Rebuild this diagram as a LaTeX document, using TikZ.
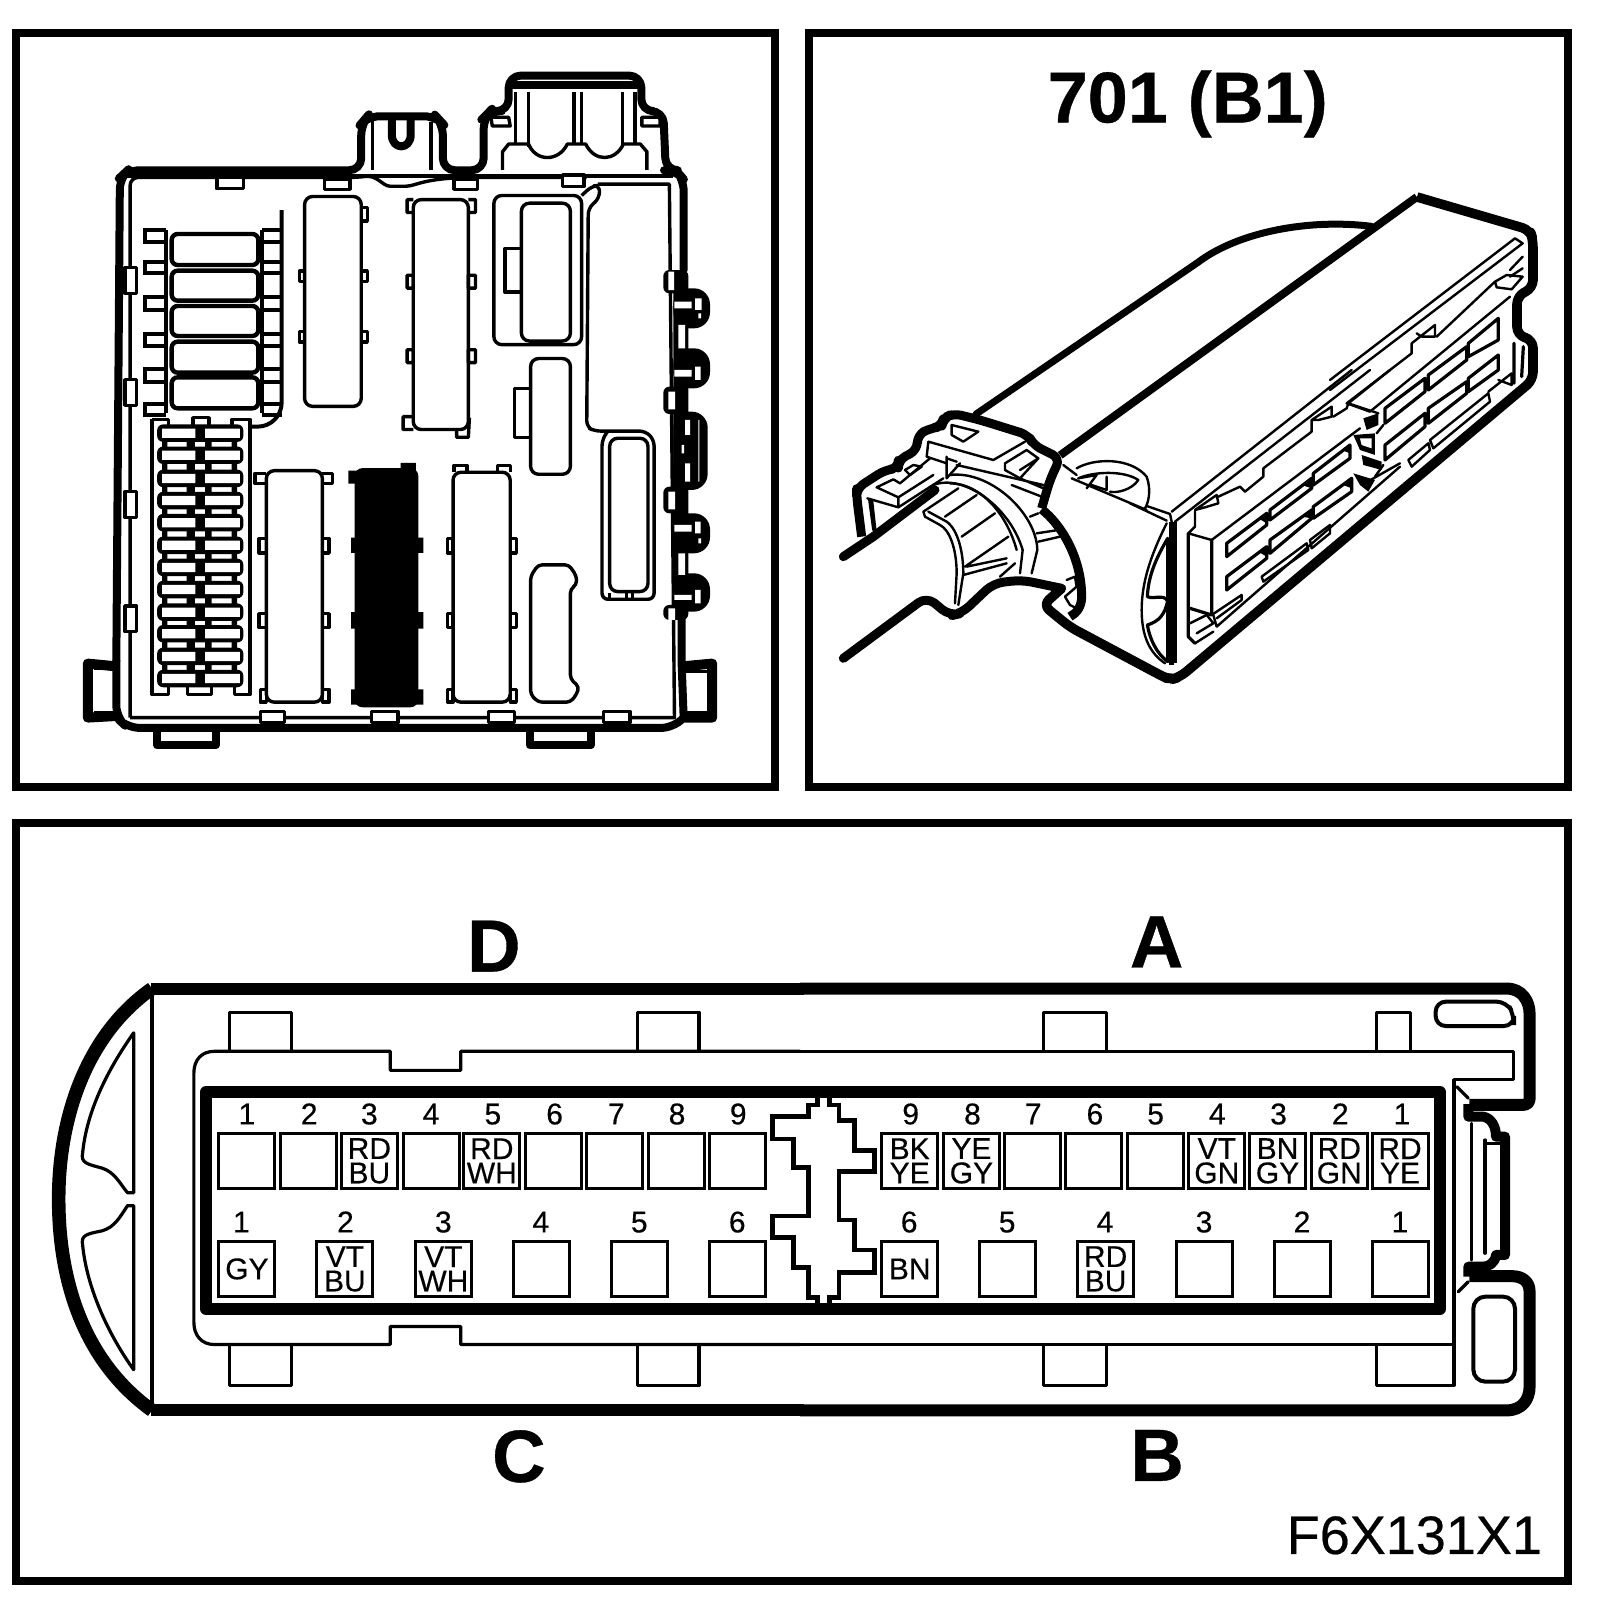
\documentclass[tikz,border=0pt]{standalone}
\usepackage{fontspec}
\setmainfont{Liberation Sans}
\newfontfamily\pinfont{Liberation Sans}[FakeBold=0.4]
\newfontfamily\bigfont{Liberation Sans}[BoldFeatures={FakeBold=0.5}]
\tikzset{
    half/.style 2 args={shift={(#1,#2)}, xscale=0.5102, yscale=0.5144},
    crop/.style 2 args={shift={(#1,#2)}, scale=0.3333},
    panel/.style={line width=3.9pt, line join=miter},
    heavy/.style={line width=4pt, line join=round, line cap=round},
    light/.style={line width=1.6pt, line join=round, line cap=round},
    wire/.style={line width=1.2pt, line join=round, line cap=round},
    shell/.style={line width=6pt, line join=round},
    relay/.style={line width=1.7pt, line join=round, rounded corners=4pt},
    ear/.style={line width=1.7pt, line join=round},
    pinbox/.style={draw, line width=1.5pt, minimum width=28pt, minimum height=27.75pt, inner sep=0pt, align=center, font=\pinfont\fontsize{15}{12.2}\selectfont},
    pinnum/.style={anchor=base, inner sep=0pt, font=\pinfont\fontsize{15}{15}\selectfont},
    sidelabel/.style={anchor=base, inner sep=0pt, font=\bigfont\fontsize{37}{37}\selectfont\bfseries},
}
\begin{document}
\begin{tikzpicture}[x=0.5pt, y=-0.5pt]
    \useasboundingbox (0,0) rectangle (1600,1616);
    \draw[panel] (16,33) rectangle (775,787);
    \draw[panel] (809,33) rectangle (1568,787);
    \draw[panel] (16,823) rectangle (1568,1581);

    % fuse box
    \begin{scope}[half={0}{0}]
        \draw[heavy, rounded corners=6pt] (228,1285) -- (235,345) -- (250,331) -- (708,331) -- (708,240) -- (720,226) -- (855,226) -- (868,240) -- (868,331) -- (948,331) -- (948,228) -- (960,216) -- (997,216) -- (997,147) -- (1257,147) -- (1257,216) -- (1300,216) -- (1305,331) -- (1325,331) -- (1340,348) -- (1340,525);
        \draw[heavy] (1336,1190) -- (1336,1290) -- (1340,1395);
        \draw[heavy, rounded corners=6pt] (228,1285) -- (228,1395) -- (250,1415) -- (1320,1415) -- (1340,1395);
        \draw[line width=4pt, line join=round] (308,1417) -- (308,1449) -- (423,1449) -- (423,1417);
        \draw[line width=4pt, line join=round] (1038,1417) -- (1038,1449) -- (1158,1449) -- (1158,1417);
        \draw[line width=5pt, line join=round] (224,1295) -- (172,1290) -- (172,1395) -- (226,1392);
        \draw[ear] (185,1300) -- (226,1300) (185,1385) -- (226,1385);
        \draw[line width=5pt, line join=round] (1342,1295) -- (1396,1290) -- (1396,1395) -- (1342,1395);
        \draw[ear] (1342,1305) -- (1385,1305) (1342,1385) -- (1385,1385);

        \draw[ear, rounded corners=4pt] (255,1395) -- (255,345) -- (700,345) .. controls (740,340) and (750,362) .. (780,362) .. controls (815,362) and (830,345) .. (945,345) -- (1150,345);
        \draw[ear] (1172,358) -- (1312,358) -- (1322,1395) -- (255,1395);
        \draw[ear] (245,342) -- (1320,342);
        \draw[ear, fill=white] (425,345) rectangle (477,367);
        \draw[ear, fill=white] (636,348) rectangle (686,368);
        \draw[ear, fill=white] (890,348) rectangle (936,368);
        \draw[ear, fill=white] (1103,340) rectangle (1145,362);
        \draw[ear, fill=white] (510,1383) rectangle (558,1405);
        \draw[ear, fill=white] (728,1383) rectangle (780,1405);
        \draw[ear, fill=white] (958,1383) rectangle (1008,1405);
        \draw[ear, fill=white] (1183,1383) rectangle (1235,1405);
        \foreach \y in {520,738,956,1178} {
            \draw[ear, fill=white] (245,\y) rectangle (268,\y+50);
        }

        \draw[ear] (730,235) -- (730,330) (845,238) -- (845,330);
        \draw[heavy] (768,232) -- (768,262) .. controls (768,292) and (805,292) .. (805,262) -- (805,232);
        \draw[heavy] (1005,165) -- (1250,165);
        \draw[ear] (1010,178) -- (1010,280) (1036,178) -- (1036,285) (1125,178) -- (1125,280) (1140,178) -- (1140,280) (1220,178) -- (1220,285) (1245,178) -- (1245,278);
        \draw[ear] (985,330) -- (985,295) -- (997,280) -- (1036,280) .. controls (1050,315) and (1095,315) .. (1112,280) -- (1148,280) .. controls (1165,315) and (1205,315) .. (1222,280) -- (1255,280) -- (1268,295) -- (1268,330);
        \draw[ear] (962,228) -- (997,228) -- (1000,245) -- (965,245) -- cycle (1258,228) -- (1294,228) -- (1294,245) -- (1258,245) -- cycle;

        \draw[relay] (597,382) rectangle (708,790);
        \draw[ear] (708,403) -- (720,403) -- (720,430) -- (708,430) (587,527) rectangle (597,547) (708,527) rectangle (720,547) (587,645) rectangle (597,665) (708,645) rectangle (720,665);
        \draw[relay] (810,388) rectangle (918,835);
        \draw[ear] (810,388) -- (798,388) -- (798,413) -- (810,413) (918,388) -- (932,388) -- (932,413) -- (918,413) (798,535) rectangle (810,560) (918,535) rectangle (932,560) (798,680) rectangle (810,705) (918,680) rectangle (932,705) (810,810) -- (790,810) -- (790,835) -- (810,835) (895,835) -- (895,850) -- (918,850) -- (920,812);
        \draw[relay] (968,380) -- (1140,380) -- (1140,670) -- (968,670) -- cycle;
        \draw[relay] (1022,395) rectangle (1118,663);
        \draw[ear] (1022,483) -- (990,483) -- (990,568) -- (1022,568);
        \draw[ear, rounded corners=3pt] (1140,380) -- (1160,362) -- (1175,360) -- (1175,385) -- (1153,405) -- (1150,830) -- (1165,838) -- (1265,838) -- (1282,855) -- (1282,1165) -- (1180,1165) -- (1180,855) -- (1190,840);
        \draw[relay] (1195,852) rectangle (1270,1150);
        \draw[ear] (1195,1165) -- (1195,1152) (1228,1165) -- (1228,1152) (1240,1165) -- (1240,1152);
        \draw[relay] (1040,697) rectangle (1118,922);
        \draw[ear] (1040,755) -- (1008,755) -- (1008,850) -- (1040,850);
        \draw[relay, rounded corners=2pt] (1040,1120) -- (1055,1098) -- (1115,1098) -- (1130,1120) -- (1130,1137) -- (1118,1145) -- (1118,1320) -- (1135,1335) -- (1130,1350) -- (1118,1365) -- (1055,1365) -- (1040,1350) -- cycle;

        \draw[relay] (522,915) rectangle (632,1365);
        \draw[ear] (522,920) -- (500,920) -- (500,940) -- (522,940) (632,920) -- (652,920) -- (652,940) -- (632,940) (508,1047) rectangle (522,1075) (632,1047) rectangle (645,1075) (508,1193) rectangle (522,1220) (632,1193) rectangle (645,1220) (510,1340) rectangle (522,1365) (632,1340) rectangle (645,1365);
        \fill[rounded corners=4pt] (695,910) rectangle (820,1375);
        \fill (683,915) rectangle (700,940) (785,900) rectangle (815,915) (688,1045) rectangle (700,1075) (815,1045) rectangle (830,1075) (688,1190) rectangle (700,1222) (815,1190) rectangle (830,1222) (688,1340) rectangle (700,1370) (815,1340) rectangle (830,1370);
        \draw[relay] (888,918) rectangle (1000,1365);
        \draw[ear] (890,918) -- (890,905) -- (915,905) -- (915,918) (975,918) -- (975,905) -- (1000,905) -- (1000,918) (877,1047) rectangle (888,1075) (1000,1047) rectangle (1012,1075) (877,1193) rectangle (888,1220) (1000,1193) rectangle (1012,1220) (877,1340) rectangle (888,1365) (1000,1340) rectangle (1012,1365);

        \draw[ear] (298,815) -- (298,1350) -- (330,1350) -- (330,1335) (368,1335) -- (368,1350) -- (415,1350) -- (415,1335) (460,1335) -- (460,1350) -- (490,1350) -- (490,815) -- (455,815) -- (455,827) (298,815) -- (330,815) -- (330,827) (378,827) -- (378,812) -- (410,812) -- (410,827);
        \fill (318,830) rectangle (328,1330) (366,830) rectangle (382,1330) (402,830) rectangle (415,1330) (454,830) rectangle (465,1330);
        \foreach \y in {842,885,930,973,1016,1060,1103,1146,1190,1232,1276,1319} {
            \fill[rounded corners=3pt] (308,\y-17) rectangle (477,\y+17);
            \fill[white] (318,\y-9) rectangle (383,\y+9) (402,\y-9) rectangle (470,\y+9);
        }
    \end{scope}

    % small fuses
    \begin{scope}[crop={130}{210}]
        \draw[line width=2pt] (108,60) -- (108,610) (396,60) -- (396,610);
        \draw[line width=2pt, rounded corners=12pt] (455,0) -- (455,650) -- (360,650);
        \foreach \y/\t in {60/95,155/190,262/300,372/408,478/515,582/615} {
            \draw[line width=2pt] (108,\y) -- (45,\y) -- (45,\t) -- (108,\t);
            \draw[line width=2pt] (396,\y) -- (455,\y) (396,\t) -- (455,\t);
        }
        \foreach \y/\t in {72/165,182/272,288/378,395/488,502/595} {
            \draw[line width=2.2pt, fill=white, rounded corners=3pt] (125,\y) rectangle (385,\t);
        }
    \end{scope}

    % side clips
    \begin{scope}[crop={640}{270}]
        \fill[rounded corners=3pt] (100,0) rectangle (145,1050);
        \fill[rounded corners=8pt] (100,55) rectangle (210,175) (100,235) rectangle (210,355) (100,425) rectangle (203,660) (100,730) rectangle (210,850) (100,910) rectangle (210,1025);
        \fill[rounded corners=3pt] (70,0) rectangle (140,70) (70,350) rectangle (140,432) (70,650) rectangle (140,730) (70,1005) rectangle (140,1050);
        \fill[white] (85,5) rectangle (102,60) (85,365) rectangle (105,418) (85,665) rectangle (105,718) (85,1015) rectangle (105,1050)
            (115,165) rectangle (135,235) (115,850) rectangle (135,915)
            (103,95) rectangle (155,115) (165,85) rectangle (185,120) (175,130) rectangle (183,145)
            (103,300) rectangle (155,320) (165,290) rectangle (182,330)
            (135,450) rectangle (150,495) (135,580) rectangle (150,635) (175,450) rectangle (178,635) (125,525) rectangle (132,550)
            (103,765) rectangle (155,785) (165,755) rectangle (182,790) (175,805) rectangle (183,820)
            (103,975) rectangle (155,990) (165,960) rectangle (182,1000);
    \end{scope}

    % connector view
    \begin{scope}[half={800}{0}]
        \node[sidelabel, font=\bigfont\fontsize{36}{36}\selectfont\bfseries] (title) at (760,238) {701 (B1)};
        \draw[line width=3.5pt, line cap=round] (345,805) -- (780,510) .. controls (860,450) and (1000,425) .. (1120,440);
        \draw[line width=4pt, line join=round] (510,885) -- (1209,383);
    \end{scope}
    \draw[line width=4.8pt, line join=round, rounded corners=4pt] (1417,197) -- (1530,230) -- (1533,240) -- (1533,288) -- (1517,296) -- (1517,335) -- (1533,340) -- (1533,380) -- (1180,677) -- (1170,680) -- (1160,675) -- (1070,627) -- (1043,605) -- (1062,588);
    \begin{scope}[crop={1330}{200}]
        \draw[wire] (0,540) -- (555,115) -- (578,130) -- (0,570);
        \draw[wire] (320,410) -- (495,245) -- (500,262) -- (545,268) -- (578,230) -- (530,225) -- (495,245);
        \draw[wire] (245,430) -- (315,375) -- (315,410) -- (275,410) -- (260,400) (245,430) -- (245,460) -- (50,610) -- (120,635) -- (540,290);
        \draw[wire] (540,210) -- (578,170) (540,230) -- (578,205);
        \draw[light] (165,625) -- (285,535) -- (285,575) -- (165,670) -- cycle (295,525) -- (410,440) -- (410,480) -- (295,570) -- cycle (415,430) -- (505,355) -- (505,420) -- (415,470) -- cycle;
        \draw[light] (165,735) -- (285,640) -- (285,680) -- (165,780) -- cycle (295,625) -- (410,545) -- (410,580) -- (295,670) -- cycle (415,535) -- (505,465) -- (505,510) -- (415,575) -- cycle;
        \draw[wire] (300,720) -- (475,580) -- (480,605) -- (310,745) -- cycle (475,575) -- (545,520) -- (545,555) -- (505,540) (235,780) -- (295,730) -- (300,750) -- (245,800) -- cycle;
        \draw[light] (552,430) -- (552,550) (580,440) -- (575,530);
    \end{scope}
    \begin{scope}[crop={1130}{370}]
        \draw[wire] (125,425) -- (665,0) (135,455) -- (720,0);
        \draw[wire] (195,420) -- (260,375) -- (265,400) -- (225,412) -- (195,420) (265,380) -- (330,350) -- (345,365) -- (400,320) -- (400,295) -- (545,185) -- (545,150) -- (605,110) -- (605,140) -- (565,150) -- (545,150) (610,140) -- (650,115) -- (655,100) -- (745,130) (655,100) -- (780,0);
        \draw[wire] (195,425) -- (195,470) -- (175,490) -- (245,510) -- (690,175);
        \draw[light] (175,490) -- (175,800) -- (195,820) (245,510) -- (245,730) (180,715) -- (245,735);
        \draw[light] (290,520) -- (410,430) -- (410,465) -- (290,560) -- cycle (420,420) -- (545,325) -- (545,355) -- (420,450) -- cycle (550,310) -- (660,225) -- (660,265) -- (550,345) -- cycle;
        \draw[light] (290,620) -- (410,530) -- (410,565) -- (290,660) -- cycle (420,510) -- (545,420) -- (545,445) -- (420,550) -- cycle (550,410) -- (665,325) -- (665,365) -- (550,445) -- cycle;
        \fill (385,445) -- (410,430) -- (410,460) -- cycle (515,345) -- (545,325) -- (545,355) -- cycle (635,240) -- (660,225) -- (660,250) -- cycle (385,545) -- (410,530) -- (410,560) -- cycle (515,440) -- (545,420) -- (545,445) -- cycle (640,345) -- (665,325) -- (665,355) -- cycle;
        \draw[wire] (245,735) -- (335,675) -- (335,690) -- (260,745) (395,620) -- (530,520) -- (535,540) -- (400,635) -- cycle (540,510) -- (600,465) -- (600,490) -- (545,535) -- cycle;
        \draw[wire] (260,770) -- (810,290) (250,735) -- (260,770) (180,760) -- (230,735) -- (250,760) -- (200,790) (195,820) -- (250,785);
        \draw[line width=2.4pt] (125,455) -- (125,885) (135,455) -- (135,880);
        \draw[wire] (110,460) .. controls (60,560) and (35,640) .. (35,720) .. controls (35,800) and (60,850) .. (105,880);
        \draw[light] (113,505) .. controls (75,570) and (55,620) .. (52,680) .. controls (75,690) and (95,670) .. (113,692) -- (113,505) (113,692) .. controls (105,735) and (85,755) .. (52,765) .. controls (60,810) and (80,850) .. (113,875) -- (113,692);
        \draw[wire] (50,408) -- (120,432) -- (125,455) (0,400) -- (110,452);
        \fill (700,145) -- (745,130) -- (745,165) -- (710,180) -- cycle (670,195) -- (735,190) -- (735,255) -- (690,240) -- cycle (695,255) -- (755,275) -- (755,300) -- (700,285) -- cycle (670,310) -- (735,330) -- (715,365) -- (690,345) -- cycle;
        \fill[white] (690,205) -- (725,205) -- (725,235) -- (695,225) -- cycle;
        \draw[wire] (760,165) -- (740,190) (760,285) -- (735,320);
        \draw[wire] (695,345) -- (810,280);
    \end{scope}
    \begin{scope}[crop={830}{400}]
        \draw[line width=4.5pt, line cap=round, line join=round] (40,470) -- (130,410) -- (315,270);
        \draw[line width=4.5pt, line join=round, rounded corners=4pt] (95,410) -- (80,290) -- (80,265) -- (165,210) -- (205,205) -- (205,180) -- (262,150) -- (262,105) -- (300,85) -- (335,80) -- (340,55) -- (370,40) -- (450,60) -- (595,105) -- (610,135) -- (690,175) -- (660,240) -- (635,325);
        \draw[line width=4.5pt, line join=round] (635,328) .. controls (690,370) and (755,470) .. (755,590) .. controls (755,620) and (740,640) .. (720,650);
        \draw[line width=4.5pt, line cap=round, line join=round, rounded corners=5pt] (40,775) -- (290,590) -- (360,648) -- (395,640) -- (490,550) -- (575,540) -- (695,565);
        \draw[wire] (295,125) -- (490,180) -- (585,125) (295,125) -- (290,170) -- (350,190);
        \draw[wire] (365,75) -- (445,95) -- (400,125) -- (365,105) -- cycle;
        \draw[wire] (525,190) -- (590,150) -- (625,175) -- (570,235) -- (525,210) -- cycle (570,210) -- (625,175);
        \draw[wire] (350,170) -- (350,235) -- (390,190) (350,175) -- (380,185);
        \draw[wire] (380,195) -- (640,255) (570,235) -- (640,265) (545,255) -- (635,290);
        \draw[wire] (360,225) .. controls (480,210) and (620,340) .. (622,450) -- (605,520);
        \draw[wire] (310,255) .. controls (400,220) and (540,320) .. (578,450) -- (570,520);
        \draw[wire] (360,250) .. controls (450,250) and (530,340) .. (560,450);
        \draw[wire] (280,335) -- (385,265) (280,335) -- (285,350) -- (330,375) .. controls (360,390) and (380,450) .. (380,520) -- (375,610);
        \draw[wire] (295,335) -- (350,365) .. controls (385,390) and (400,460) .. (400,520) -- (385,615);
        \draw[wire] (345,350) -- (440,285) (395,410) -- (495,340) (405,500) -- (535,410) (410,500) -- (530,475) (400,525) -- (530,490) (510,530) -- (555,490);
        \draw[wire] (112,295) -- (205,322) -- (340,235) (205,292) -- (205,322) (205,292) -- (140,262) -- (190,238) -- (210,250) -- (300,175) (205,292) -- (310,225);
        \draw[wire] (225,210) -- (250,195) -- (275,200) -- (240,225) -- cycle;
        \draw[wire] (118,300) -- (130,390) (126,300) -- (136,390);
        \draw[wire] (700,195) -- (740,225) (725,235) -- (950,330);
        \draw[wire] (740,205) .. controls (790,175) and (900,170) .. (950,230) .. controls (965,270) and (955,310) .. (945,325);
        \draw[wire] (745,235) .. controls (790,215) and (880,210) .. (925,240) .. controls (905,270) and (860,280) .. (840,275);
        \draw[wire] (745,235) -- (800,225) -- (770,265) (830,230) -- (830,270) -- (785,255);
        \draw[wire] (620,400) -- (685,390) (625,425) -- (690,410) (600,350) -- (625,340);
        \draw[wire] (710,540) -- (735,530) -- (740,560) -- (705,590) -- (720,615) -- (740,625);
    \end{scope}

    % connector outline
    \begin{scope}[half={0}{808}]
        \draw[line width=6.8pt, line join=round] (298,351) .. controls (170,440) and (115,600) .. (115,760) .. controls (115,930) and (170,1080) .. (298,1171);
        \draw[shell] (295,351) -- (1575,351) (295,1171) -- (1575,1171);
        \draw[light] (298,351) -- (298,1171);
        \draw[light] (262,437) .. controls (210,510) and (170,590) .. (162,670) .. controls (158,690) and (170,692) .. (200,700) .. controls (225,708) and (235,730) .. (250,748) -- (262,748) -- cycle;
        \draw[light] (262,1092) .. controls (210,1020) and (170,930) .. (162,850) .. controls (158,830) and (170,828) .. (200,822) .. controls (225,815) and (235,795) .. (250,773) -- (262,773) -- cycle;
        \draw[light] (1568,473) -- (903,473) -- (903,510) -- (765,510) -- (765,473) -- (420,473) .. controls (395,473) and (380,490) .. (380,515) -- (380,1000) .. controls (380,1025) and (395,1043) .. (420,1043) -- (765,1043) -- (765,1008) -- (903,1008) -- (903,1043) -- (1568,1043);
        \draw[light] (450,470) -- (450,397) -- (572,397) -- (572,470);
        \draw[light] (1250,470) -- (1250,397) -- (1370,397) -- (1370,470);
        \draw[light] (450,1045) -- (450,1122) -- (572,1122) -- (572,1045);
        \draw[light] (1250,1045) -- (1250,1122) -- (1370,1122) -- (1370,1045);
        \draw[line width=6pt, line join=round] (1575,552) -- (404,552) -- (404,974) -- (1575,974);
        \node[sidelabel] (labelD) at (968,318) {D};
        \node[sidelabel] (labelC) at (1017,1310) {C};
        \foreach \x/\n/\t in {484/1/{},605/2/{},724/3/{RD\\BU},845/4/{},964/5/{RD\\WH},1085/6/{},1205/7/{},1325/8/{},1446/9/{}} {
            \node[pinbox] (dbox\n) at (\x,686) {\t};
        }
        \foreach \x/\n in {484/1,606/2,724/3,845/4,966/5,1087/6,1208/7,1327/8,1447/9} {
            \node[pinnum] (dnum\n) at (\x,615) {\n};
        }
        \foreach \x/\n/\t in {484/1/GY,676/2/{VT\\BU},869/3/{VT\\WH},1061/4/{},1253/5/{},1445/6/{}} {
            \node[pinbox] (cbox\n) at (\x,896) {\t};
        }
        \foreach \x/\n in {473/1,677/2,869/3,1060/4,1253/5,1445/6} {
            \node[pinnum] (cnum\n) at (\x,825) {\n};
        }
    \end{scope}
    \begin{scope}[half={800}{808}]
        \draw[shell] (0,351) -- (1385,351) .. controls (1415,351) and (1430,375) .. (1430,400) -- (1430,565) .. controls (1430,572) and (1425,577) .. (1418,577) -- (1312,577);
        \draw[shell] (0,1171) -- (1385,1171) .. controls (1415,1171) and (1430,1150) .. (1430,1125) -- (1430,940) .. controls (1430,920) and (1415,910) .. (1395,910) -- (1312,910);
        \draw[light] (0,473) -- (1398,473) -- (1398,528) -- (1282,528) -- (1282,1122) -- (1130,1122) -- (1130,1045);
        \draw[light] (0,1043) -- (1282,1043);
        \draw[light] (477,470) -- (477,397) -- (600,397) -- (600,470);
        \draw[light] (1130,470) -- (1130,397) -- (1197,397) -- (1197,470);
        \draw[light] (477,1045) -- (477,1122) -- (600,1122) -- (600,1045);
        \draw[line width=6pt, line join=round] (0,552) -- (1254,552) -- (1254,974) -- (0,974);
        \node[sidelabel] (labelA) at (699,310) {A};
        \node[sidelabel] (labelB) at (700,1308) {B};
        \node[anchor=base east, inner sep=0pt, font=\pinfont\fontsize{27}{27}\selectfont] (code) at (1455,1450) {F6X131X1};
        \foreach \x/\n/\t in {215/9/{BK\\YE},336/8/{YE\\GY},456/7/{},576/6/{},696/5/{},817/4/{VT\\GN},936/3/{BN\\GY},1057/2/{RD\\GN},1176/1/{RD\\YE}} {
            \node[pinbox] (abox\n) at (\x,686) {\t};
        }
        \foreach \x/\n in {217/9,338/8,457/7,578/6,697/5,818/4,938/3,1059/2,1180/1} {
            \node[pinnum] (anum\n) at (\x,615) {\n};
        }
        \foreach \x/\n/\t in {215/6/BN,407/5/{},599/4/{RD\\BU},793/3/{},985/2/{},1177/1/{}} {
            \node[pinbox] (bbox\n) at (\x,896) {\t};
        }
        \foreach \x/\n in {214/6,406/5,598/4,792/3,984/2,1176/1} {
            \node[pinnum] (bnum\n) at (\x,825) {\n};
        }
    \end{scope}

    % centre key
    \begin{scope}[crop={740}{1080}]
        \draw[line width=2.2pt, line join=miter] (232,55) -- (232,75) -- (205,75) -- (205,110) -- (98,110) -- (98,177) -- (160,177) -- (160,262) -- (205,262) -- (205,408) -- (98,408) -- (98,472) -- (160,472) -- (160,563) -- (205,563) -- (205,652) -- (232,652) -- (232,672);
        \draw[line width=2.2pt, line join=miter] (268,55) -- (268,75) -- (297,75) -- (297,122) -- (343,122) -- (343,212) -- (404,212) -- (404,275) -- (297,275) -- (297,420) -- (343,420) -- (343,510) -- (404,510) -- (404,578) -- (297,578) -- (297,652) -- (268,652) -- (268,672);
    \end{scope}

    % latch
    \begin{scope}[crop={1420}{980}]
        \draw[line width=2pt, rounded corners=5pt] (47,65) -- (260,65) -- (282,105) -- (282,138) -- (47,138) -- cycle;
        \draw[line width=2pt, rounded corners=6pt] (160,950) rectangle (285,1205);
        \draw[line width=5pt, line join=round] (145,372) -- (145,410) -- (190,410) .. controls (215,415) and (228,440) .. (228,470) -- (255,470) -- (255,825) -- (228,825) .. controls (225,850) and (205,860) .. (190,860) -- (145,860) -- (145,890);
        \draw[light] (155,430) -- (155,840) (195,480) -- (195,820) (195,490) -- (240,490);
        \draw[light] (110,320) -- (145,355) (115,935) -- (145,905);
    \end{scope}
\end{tikzpicture}
\end{document}
